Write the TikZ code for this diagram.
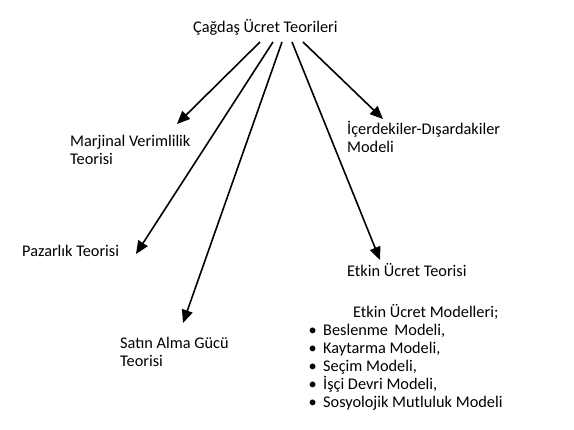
\documentclass[tikz,border=0pt]{standalone}
\usepackage{fontspec}
\setmainfont{Carlito}
\usetikzlibrary{arrows.meta}
\begin{document}
\begin{tikzpicture}[x=1pt,y=-1pt,
  lbl/.style={anchor=base west, inner sep=0pt, font=\fontsize{16.3}{18}\selectfont, align=left},
  arr/.style={line width=1.6pt, -{Triangle[length=13pt,width=11pt]}}]
\useasboundingbox[fill=white] (0,0) rectangle (574,430);
\node[lbl] (title) at (193,33) {Çağdaş Ücret Teorileri};
\node[lbl] (marj) at (70,165) {Marjinal Verimlilik\\Teorisi};
\node[lbl] (paz) at (22,257) {Pazarlık Teorisi};
\node[lbl] (satin) at (120,367) {Satın Alma Gücü\\Teorisi};
\node[lbl] (icer) at (347,153) {İçerdekiler-Dışardakiler\\Modeli};
\node[lbl] (etkin) at (347,277) {Etkin Ücret Teorisi};
\node[lbl] (mods) at (353,318) {Etkin Ücret Modelleri;};
\node[lbl] (m1) at (323,336) {Beslenme\, Modeli,};
\node[lbl] (m2) at (323,354) {Kaytarma Modeli,};
\node[lbl] (m3) at (323,372) {Seçim Modeli,};
\node[lbl] (m4) at (323,390) {İşçi Devri Modeli,};
\node[lbl] (m5) at (323,408) {Sosyolojik Mutluluk Modeli};
\foreach \n in {m1,m2,m3,m4,m5}{
  \node[lbl, anchor=base east] (b\n) at ([xshift=-6pt]\n.base west) {•};
}
\coordinate (s1) at (260,42);
\coordinate (s2) at (273,42);
\coordinate (s3) at (282,42);
\coordinate (s4) at (292,42);
\coordinate (s5) at (303,42);
\coordinate (e1) at (177,124);
\coordinate (e2) at (136,254);
\coordinate (e3) at (183,323);
\coordinate (e4) at (380,260);
\coordinate (e5) at (383,119);
\draw[arr] (s1) -- (e1);
\draw[arr] (s2) -- (e2);
\draw[arr] (s3) -- (e3);
\draw[arr] (s4) -- (e4);
\draw[arr] (s5) -- (e5);
\end{tikzpicture}
\end{document}
